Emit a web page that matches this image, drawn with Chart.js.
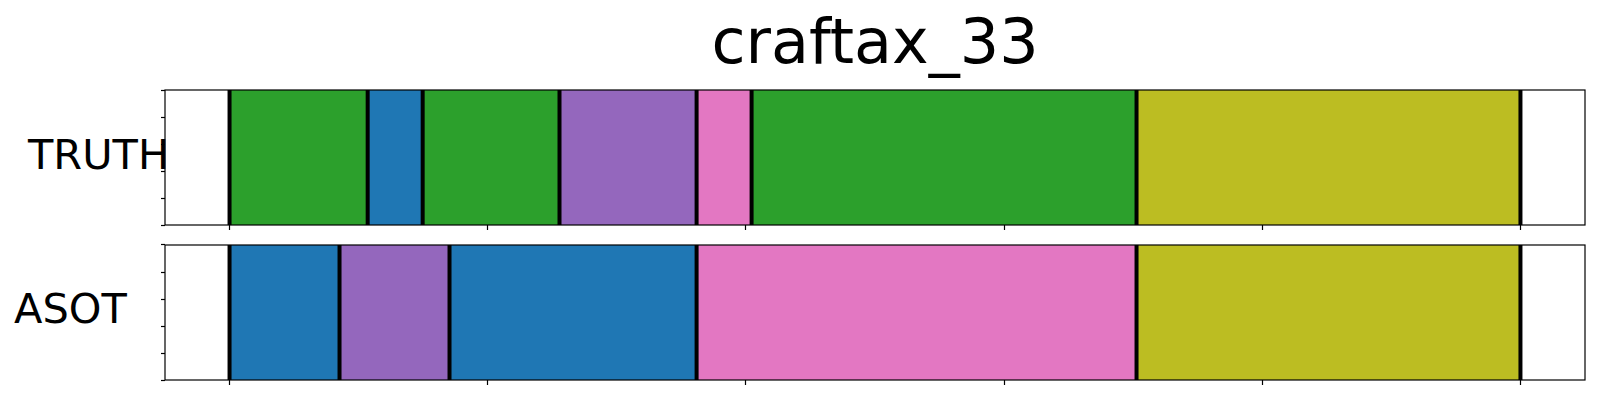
<!DOCTYPE html>
<html>
<head>
<meta charset="utf-8">
<script src="https://cdn.jsdelivr.net/npm/chart.js@4.4.1/dist/chart.umd.min.js"></script>
<style>
  html, body { margin: 0; padding: 0; background: #fff; }
  #wrap { position: relative; width: 1600px; height: 400px; overflow: hidden; font-family: 'DejaVu Sans', sans-serif; color: #000; }
  .txt { position: absolute; white-space: nowrap; line-height: 1; }
  #title { font-size: 62px; top: 11px; left: 0; width: 1750px; text-align: center; }
  #lblTruth { font-size: 41.5px; top: 134px; left: 28px; }
  #lblAsot { font-size: 41.5px; top: 288px; left: 14px; }
  canvas { position: absolute; left: 0; }
  #cTruth { top: 0; }
  #cAsot { top: 240px; }
</style>
</head>
<body>
<div id="wrap">
  <div id="title" class="txt"></div>
  <div id="lblTruth" class="txt"></div>
  <div id="lblAsot" class="txt"></div>
  <canvas id="cTruth" width="1600" height="240"></canvas>
  <canvas id="cAsot" width="1600" height="160"></canvas>
</div>
<script>
// dados (frames, eixo de 0 a 500)
const chartTitle = 'craftax_33';
const rows = ['TRUTH', 'ASOT'];
const xTicks = [0, 100, 200, 300, 400, 500];
const yTicks = [0, 0.25, 0.5, 0.75, 1];
const truthBounds = [0, 53.5, 74.8, 127.8, 180.9, 202.2, 351.3, 500];
const truthClasses = [2, 0, 2, 4, 6, 2, 8];
const asotBounds = [0, 42.6, 85.2, 180.9, 351.3, 500];
const asotClasses = [0, 4, 0, 6, 8];

const tab10 = ['#1f77b4', '#ff7f0e', '#2ca02c', '#d62728', '#9467bd',
               '#8c564b', '#e377c2', '#7f7f7f', '#bcbd22', '#17becf'];

document.getElementById('title').textContent = chartTitle;
document.getElementById('lblTruth').textContent = rows[0];
document.getElementById('lblAsot').textContent = rows[1];

// linhas pretas nas fronteiras dos segmentos + moldura do gráfico
const boundaryPlugin = {
    id: 'boundaries',
    afterDatasetsDraw(chart, args, opts) {
        const { ctx, chartArea } = chart;
        const xs = chart.scales.x;
        ctx.save();
        ctx.strokeStyle = '#000';
        ctx.lineWidth = 4;
        opts.bounds.forEach(b => {
            const px = xs.getPixelForValue(b);
            ctx.beginPath();
            ctx.moveTo(px, chartArea.top);
            ctx.lineTo(px, chartArea.bottom);
            ctx.stroke();
        });
        ctx.lineWidth = 1.2;
        ctx.strokeRect(chartArea.left, chartArea.top,
            chartArea.right - chartArea.left, chartArea.bottom - chartArea.top);
        ctx.restore();
    }
};

function makePanel(canvasId, label, bounds, classes, padding) {
    const segs = classes.map((c, i) => ({ y: label, x: [bounds[i], bounds[i + 1]] }));
    return new Chart(document.getElementById(canvasId), {
        type: 'bar',
        data: {
            labels: [label],
            datasets: [{
                data: segs,
                backgroundColor: classes.map(c => tab10[c]),
                borderWidth: 0,
                barPercentage: 1,
                categoryPercentage: 1,
                grouped: false
            }]
        },
        options: {
            indexAxis: 'y',
            responsive: false,
            animation: false,
            events: [],
            layout: { padding: padding },
            plugins: {
                legend: { display: false },
                tooltip: { enabled: false },
                boundaries: { bounds: bounds }
            },
            scales: {
                x: {
                    type: 'linear',
                    min: -25,
                    max: 525,
                    afterBuildTicks: s => { s.ticks = xTicks.map(v => ({ value: v })); },
                    ticks: { display: false },
                    border: { display: false },
                    grid: { drawOnChartArea: false, drawTicks: true, tickLength: 5, tickWidth: 1.2, tickColor: '#000' }
                },
                y: {
                    type: 'category',
                    display: false
                },
                y2: {
                    type: 'linear',
                    position: 'left',
                    min: 0,
                    max: 1,
                    afterBuildTicks: s => { s.ticks = yTicks.map(v => ({ value: v })); },
                    ticks: { display: false },
                    border: { display: false },
                    grid: { drawOnChartArea: false, drawTicks: true, tickLength: 4, tickWidth: 1.2, tickColor: '#000' }
                }
            }
        },
        plugins: [boundaryPlugin]
    });
}

makePanel('cTruth', rows[0], truthBounds, truthClasses, { top: 90, left: 161, right: 15, bottom: 10 });
makePanel('cAsot', rows[1], asotBounds, asotClasses, { top: 5, left: 161, right: 15, bottom: 15 });
</script>
</body>
</html>
